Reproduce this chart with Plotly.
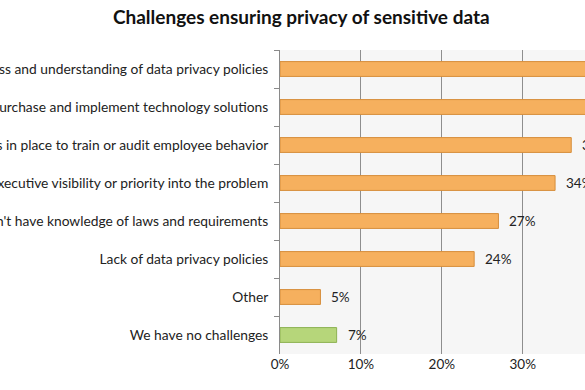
import plotly.graph_objects as go

categories = [
    "Lack of awareness and understanding of data privacy policies",
    "Lack of resources to purchase and implement technology solutions",
    "Lack of processes in place to train or audit employee behavior",
    "Lack of executive visibility or priority into the problem",
    "Don't have knowledge of laws and requirements",
    "Lack of data privacy policies",
    "Other",
    "We have no challenges",
]
values = [45, 40, 36, 34, 27, 24, 5, 7]
value_labels = ["45%", "40%", "36%", "34%", "27%", "24%", "5%", "7%"]
bar_colors = ["#F6B05E"] * 7 + ["#B6D67A"]
line_colors = ["#D68E3C"] * 7 + ["#8DB253"]
x_ticks = [0, 10, 20, 30]
x_tick_labels = ["0%", "10%", "20%", "30%"]

fig = go.Figure(
    go.Bar(
        x=values,
        y=categories,
        orientation="h",
        width=0.39,
        marker=dict(color=bar_colors, line=dict(color=line_colors, width=1)),
        hoverinfo="skip",
    )
)

for cat, val, lab in zip(categories, values, value_labels):
    fig.add_annotation(
        x=val, y=cat, text=lab, showarrow=False,
        xanchor="left", xshift=9,
        font=dict(family="Lato", size=13.5, color="#222"),
    )

fig.update_layout(
    width=585,
    height=390,
    margin=dict(l=280, r=0, t=50, b=36, autoexpand=False),
    paper_bgcolor="white",
    plot_bgcolor="#F6F6F6",
    showlegend=False,
    title=dict(
        text="<b>Challenges ensuring privacy of sensitive data</b>",
        x=0.515,
        xanchor="center",
        y=1 - 17 / 390,
        yanchor="middle",
        font=dict(family="Lato", size=19, color="#111"),
    ),
    xaxis=dict(
        range=[0, 37.7],
        tickvals=x_ticks,
        ticktext=x_tick_labels,
        showgrid=True,
        gridcolor="#8E8E8E",
        gridwidth=1,
        zeroline=False,
        showline=False,
        ticks="",
        tickfont=dict(family="Lato", size=13.5, color="#222"),
        automargin=False,
    ),
    yaxis=dict(
        autorange="reversed",
        showline=True,
        linecolor="#8A8A8A",
        linewidth=1,
        ticks="outside",
        tickson="boundaries",
        ticklen=5,
        tickcolor="#8A8A8A",
        showgrid=False,
        tickfont=dict(family="Lato", size=13.8, color="#222"),
        ticklabelstandoff=8,
        automargin=False,
    ),
)

fig.write_html(
    "out.html",
    config={"displayModeBar": False},
    post_script="document.body.style.margin='0px';document.documentElement.style.overflow='hidden';",
)
